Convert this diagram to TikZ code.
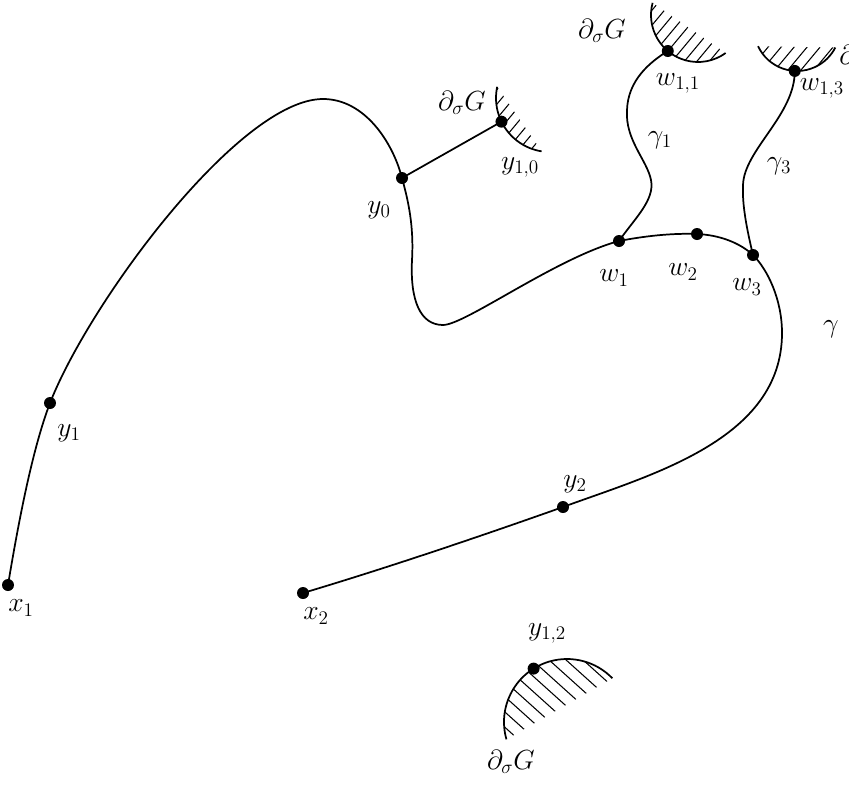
\documentclass[tikz,border=0pt]{standalone}
\begin{document}
\begin{tikzpicture}[x=0.75pt,y=0.75pt,yscale=-1,xscale=1,
  curveline/.style={line width=1.3pt},
  hatchline/.style={line width=0.8pt},
  lbl/.style={inner sep=0.75pt,font=\huge}]
\useasboundingbox (0,0) rectangle (849,789);

%Points on the curve
\coordinate (x1) at (8,585);
\coordinate (y1) at (50,403);
\coordinate (gtop) at (323,99);
\coordinate (y0) at (402,178);
\coordinate (gleft) at (412,260);
\coordinate (gbot) at (443,325);
\coordinate (w1) at (619,241);
\coordinate (w2) at (697,234);
\coordinate (w3) at (753,255);
\coordinate (gright) at (782,333);
\coordinate (y2) at (563,507);
\coordinate (x2) at (303,593);
%Centres of the boundary arcs
\coordinate (c10) at (550,98);
\coordinate (c11) at (698,15);
\coordinate (c13) at (797,28);
\coordinate (c12) at (567,722);
\path (c10) ++(154:54) coordinate (y10);
\path (c11) ++(130:47) coordinate (w11);
\path (c13) ++(93:43) coordinate (w13);
\path (c12) ++(238:63) coordinate (y12);

%Curve Lines [gamma]
\draw[curveline] (x1) .. controls (18,525) and (32,450) .. (y1)
  .. controls (90,301) and (240,99) .. (gtop)
  .. controls (365,99) and (393,143) .. (y0)
  .. controls (408,200) and (414,225) .. (gleft)
  .. controls (410,300) and (420,325) .. (gbot)
  .. controls (465,325) and (556,258) .. (w1)
  .. controls (645,236) and (672,233) .. (w2)
  .. controls (720,235) and (740,243) .. (w3)
  .. controls (768,270) and (782,300) .. (gright)
  .. controls (782,440) and (650,475) .. (y2)
  .. controls (470,540) and (380,570) .. (x2);
%Curve Lines [gamma_1]
\draw[curveline] (w1) .. controls (635,218) and (655,200) .. (651,180)
  .. controls (647,160) and (625,140) .. (627,110)
  .. controls (628,80) and (650,62) .. (w11);
%Curve Lines [gamma_3]
\draw[curveline] (w3) .. controls (747,230) and (742,205) .. (743,185)
  .. controls (744,150) and (795,115) .. (w13);
%Straight Lines
\draw[curveline] (y0) -- (y10);

%Shape: Arc [y_{1,0}]
\begin{scope}
\clip (c10) ++(192:54) arc[start angle=192,end angle=99,radius=54] -- cycle;
\foreach \k in {-8,...,8} \draw[hatchline] (c10) ++(\k*12,0) +(-60,72) -- +(60,-72);
\end{scope}
\draw[curveline] (c10) ++(192:54) arc[start angle=192,end angle=99,radius=54];
%Shape: Arc [w_{1,1}]
\begin{scope}
\clip (c11) ++(195:47) arc[start angle=195,end angle=54,radius=47] -- cycle;
\foreach \k in {-8,...,8} \draw[hatchline] (c11) ++(\k*12.5,0) +(-60,72) -- +(60,-72);
\end{scope}
\draw[curveline] (c11) ++(195:47) arc[start angle=195,end angle=54,radius=47];
%Shape: Arc [w_{1,3}]
\begin{scope}
\clip (c13) ++(155:43) arc[start angle=155,end angle=27,radius=43] -- cycle;
\foreach \k in {-8,...,8} \draw[hatchline] (c13) ++(\k*13,0) +(-60,72) -- +(60,-72);
\end{scope}
\draw[curveline] (c13) ++(155:43) arc[start angle=155,end angle=27,radius=43];
%Shape: Arc [y_{1,2}]
\begin{scope}
\clip (c12) ++(164:63) arc[start angle=164,end angle=316,radius=63] -- cycle;
\foreach \k in {-8,...,8} \draw[hatchline] (c12) ++(\k*17,0) +(-80,-72) -- +(80,72);
\end{scope}
\draw[curveline] (c12) ++(164:63) arc[start angle=164,end angle=316,radius=63];

%Dots
\foreach \p in {x1,y1,y0,y10,w1,w2,w3,w11,w13,y2,x2,y12}
  \fill (\p) circle (6);

% Text Node
\node[lbl] (lx1) at (21,608) {$x_1$};
\node[lbl] (ly1) at (69,433) {$y_1$};
\node[lbl] (ly0) at (379,210) {$y_0$};
\node[lbl] (ldg10) at (462,103) {$\partial_\sigma G$};
\node[lbl] (ly10) at (520,167) {$y_{1,0}$};
\node[lbl] (ldg11) at (602,31) {$\partial_\sigma G$};
\node[lbl] (lw11) at (678,83) {$w_{1,1}$};
\node[lbl,anchor=west] (ldg13) at (838,57) {$\partial_\sigma G$};
\node[lbl] (lw13) at (822,88) {$w_{1,3}$};
\node[lbl] (lgam1) at (660,140) {$\gamma_1$};
\node[lbl] (lgam3) at (779,166) {$\gamma_3$};
\node[lbl] (lw1) at (614,278) {$w_1$};
\node[lbl] (lw2) at (683,272) {$w_2$};
\node[lbl] (lw3) at (747,287) {$w_3$};
\node[lbl] (lgam) at (831,329) {$\gamma$};
\node[lbl] (ly2) at (575,484) {$y_2$};
\node[lbl] (lx2) at (316,616) {$x_2$};
\node[lbl] (ly12) at (547,633) {$y_{1,2}$};
\node[lbl] (ldg12) at (511,762) {$\partial_\sigma G$};

\end{tikzpicture}
\end{document}
